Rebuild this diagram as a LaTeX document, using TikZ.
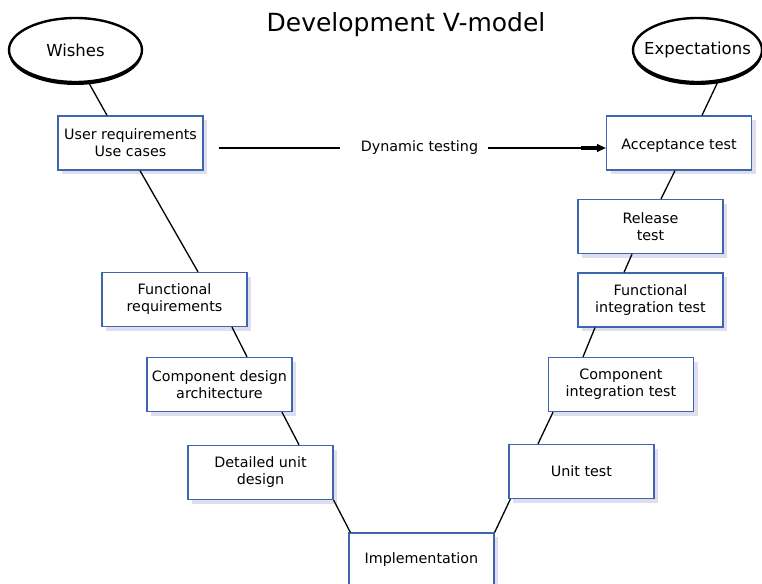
\documentclass[tikz,border=0pt]{standalone}
\usepackage{fontspec}
\setmainfont{DejaVu Sans}
\usetikzlibrary{positioning,arrows.meta,shadows,shapes.geometric}
\definecolor{vblue}{RGB}{62,102,176}
\definecolor{vshade}{RGB}{222,222,238}

\begin{document}
\begin{tikzpicture}[x=1pt,y=-1pt,
  stage/.style={draw=vblue,line width=1.3pt,fill=white,minimum width=145pt,minimum height=54pt,align=center,inner sep=2pt,font=\fontsize{14.3}{17}\selectfont,drop shadow={shadow xshift=4pt,shadow yshift=-4pt,fill=vshade,opacity=1}},
  goal/.style={ellipse,draw,line width=2.4pt,fill=white,minimum width=133pt,minimum height=64pt,inner xsep=-12pt,inner ysep=0pt,font=\fontsize{16.5}{19}\selectfont,drop shadow={shadow xshift=0pt,shadow yshift=-3pt,fill=black,opacity=1}},
  link/.style={line width=1.3pt}]
\path[use as bounding box,fill=white] (0,0) rectangle (762,583);
\node[font=\fontsize{25}{29}\selectfont] (title) at (406,25) {Development V-model};
\node[goal] (wishes) at (75.5,50) {Wishes};
\node[goal,minimum width=129pt] (expect) at (697.5,50) {Expectations};
\node[stage] (ureq) at (130.5,143) {User requirements\\Use cases};
\node[stage] (freq) at (174.5,299.5) {Functional\\requirements};
\node[stage] (cdes) at (219.5,384.5) {Component design\\architecture};
\node[stage] (dud) at (260.5,472.5) {Detailed unit\\design};
\node[stage] (impl) at (421.5,560) {Implementation};
\node[stage] (unit) at (581.5,471.5) {Unit test};
\node[stage] (cint) at (621,384.5) {Component\\integration test};
\node[stage] (fint) at (650.5,300) {Functional\\integration test};
\node[stage] (rel) at (650.5,226.5) {Release\\test};
\node[stage,text height=15pt] (acc) at (679,143) {Acceptance test};
\node[font=\fontsize{14.3}{17}\selectfont,inner sep=0pt] (dyn) at (419.5,148) {Dynamic testing};
\draw[link] (wishes.-68) -- ([xshift=-23.5pt]ureq.north);
\draw[link] ([xshift=9.5pt]ureq.south) -- ([xshift=23.5pt]freq.north);
\draw[link] ([xshift=57.5pt]freq.south) -- ([xshift=27.5pt]cdes.north);
\draw[link] ([xshift=62.5pt]cdes.south) -- ([xshift=38.5pt]dud.north);
\draw[link] (dud.south east) -- ([xshift=2pt]impl.north west);
\draw[link] (impl.north east) -- ([xshift=2pt]unit.south west);
\draw[link] ([xshift=-43.5pt]unit.north) -- ([xshift=-68pt]cint.south);
\draw[link] ([xshift=-38pt]cint.north) -- ([xshift=-55.5pt]fint.south);
\draw[link] ([xshift=-26.5pt]fint.north) -- ([xshift=-18.5pt]rel.south);
\draw[link] ([xshift=10.5pt]rel.north) -- ([xshift=-4pt]acc.south);
\draw[link] ([xshift=23pt]acc.north) -- (expect.-57);
\draw[link,shorten <=15pt,shorten >=21pt] (ureq.east |- dyn) -- (dyn.west);
\draw[link,shorten <=10pt,-{Rectangle[length=16pt,width=4pt]Triangle[length=9pt,width=8pt]}] (dyn.east) -- (acc.west |- dyn);
\end{tikzpicture}
\end{document}
